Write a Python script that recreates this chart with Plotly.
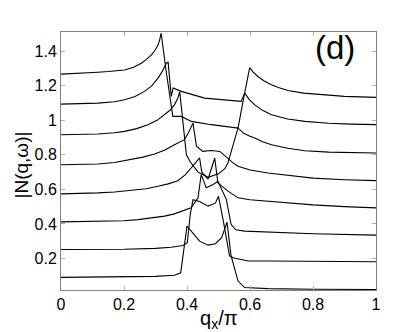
import plotly.graph_objects as go

# curves, bottom (c0) to top (c7)
c0_x = [0, 0.1, 0.2, 0.3, 0.36, 0.38, 0.40, 0.42, 0.44, 0.467, 0.49, 0.51, 0.52, 0.527, 0.54, 0.562, 0.583, 0.657, 0.8, 1.0]
c0_y = [0.090, 0.091, 0.093, 0.096, 0.102, 0.117, 0.387, 0.34, 0.30, 0.277, 0.285, 0.32, 0.377, 0.41, 0.214, 0.069, 0.031, 0.025, 0.021, 0.02]

c1_x = [0, 0.1, 0.2, 0.3, 0.35, 0.387, 0.401, 0.41, 0.419, 0.44, 0.467, 0.49, 0.50, 0.515, 0.535, 0.546, 0.594, 0.657, 0.8, 1.0]
c1_y = [0.252, 0.252, 0.253, 0.258, 0.265, 0.275, 0.291, 0.45, 0.54, 0.53, 0.503, 0.52, 0.56, 0.42, 0.215, 0.204, 0.185, 0.185, 0.182, 0.181]

c2_x = [0, 0.117, 0.2, 0.244, 0.29, 0.329, 0.36, 0.382, 0.413, 0.435, 0.445, 0.461, 0.483, 0.498, 0.525,
        0.54, 0.555, 0.583, 0.657, 0.8, 1.0]
c2_y = [0.412, 0.414, 0.418, 0.425, 0.434, 0.445, 0.458, 0.474, 0.493, 0.551, 0.686, 0.609, 0.628, 0.647, 0.541,
        0.396, 0.366, 0.358, 0.353, 0.343, 0.335]

c3_x = [0, 0.06, 0.117, 0.17, 0.223, 0.27, 0.308, 0.34, 0.371, 0.395, 0.413, 0.44, 0.447, 0.467, 0.488, 0.498,
        0.53, 0.562, 0.6, 0.657, 0.72, 0.8, 0.9, 1.0]
c3_y = [0.574, 0.576, 0.58, 0.585, 0.593, 0.604, 0.618, 0.632, 0.65, 0.685, 0.724, 0.782, 0.70, 0.66, 0.782, 0.638,
        0.59, 0.551, 0.54, 0.532, 0.52, 0.51, 0.50, 0.493]

c4_x = [0, 0.06, 0.117, 0.17, 0.223, 0.26, 0.297, 0.33, 0.36, 0.392, 0.405, 0.419, 0.43, 0.45, 0.477, 0.504,
        0.53, 0.545, 0.562, 0.6, 0.657, 0.72, 0.8, 0.9, 1.0]
c4_y = [0.743, 0.744, 0.747, 0.756, 0.772, 0.787, 0.805, 0.828, 0.859, 0.888, 0.93, 0.984, 0.85, 0.82, 0.825, 0.82,
        0.78, 0.755, 0.734, 0.712, 0.695, 0.68, 0.665, 0.656, 0.651]

c5_x = [0, 0.06, 0.117, 0.17, 0.202, 0.24, 0.276, 0.305, 0.329, 0.347, 0.36, 0.37, 0.377, 0.398, 0.41, 0.435,
        0.467, 0.50, 0.52, 0.53, 0.562, 0.58, 0.6, 0.615, 0.64, 0.668, 0.72, 0.774, 0.85, 1.0]
c5_y = [0.917, 0.918, 0.921, 0.928, 0.936, 0.952, 0.975, 1.0, 1.032, 1.06, 1.09, 1.125, 1.165, 0.80, 0.76, 0.70,
        0.67, 0.69, 0.72, 0.754, 0.956, 0.925, 0.908, 0.898, 0.876, 0.859, 0.838, 0.824, 0.816, 0.811]

c6_x = [0, 0.05, 0.117, 0.17, 0.202, 0.235, 0.265, 0.288, 0.308, 0.322, 0.334, 0.340, 0.350, 0.356, 0.382,
        0.456, 0.572, 0.583, 0.598, 0.615, 0.64, 0.668, 0.72, 0.774, 0.85, 0.92, 1.0]
c6_y = [1.094, 1.096, 1.10, 1.108, 1.119, 1.138, 1.168, 1.20, 1.245, 1.285, 1.331, 1.337, 1.139, 1.187, 1.168,
        1.129, 1.11, 1.158, 1.12, 1.09, 1.058, 1.032, 1.008, 0.994, 0.983, 0.978, 0.975]

c7_x = [0, 0.05, 0.117, 0.15, 0.202, 0.23, 0.255, 0.27, 0.287, 0.298, 0.308, 0.313, 0.318, 0.334, 0.355, 0.382,
        0.414, 0.477, 0.562, 0.580, 0.599, 0.61, 0.625, 0.645, 0.668, 0.69, 0.721, 0.77, 0.826, 0.9, 1.0]
c7_y = [1.268, 1.271, 1.279, 1.283, 1.292, 1.308, 1.331, 1.352, 1.379, 1.405, 1.437, 1.465, 1.505, 1.283, 1.023, 1.023,
        0.994, 0.975, 0.955, 1.13, 1.306, 1.28, 1.254, 1.228, 1.206, 1.19, 1.173, 1.158, 1.148, 1.139, 1.133]

curves = [(c0_x, c0_y), (c1_x, c1_y), (c2_x, c2_y), (c3_x, c3_y),
          (c4_x, c4_y), (c5_x, c5_y), (c6_x, c6_y), (c7_x, c7_y)]

x_ticks = [0, 0.2, 0.4, 0.6, 0.8, 1]
x_labels = ["0", "0.2", "0.4", "0.6", "0.8", "1"]
y_ticks = [0.2, 0.4, 0.6, 0.8, 1.0, 1.2, 1.4]
y_labels = ["0.2", "0.4", "0.6", "0.8", "1", "1.2", "1.4"]

FONT = "Liberation Sans, Arial, sans-serif"

fig = go.Figure()
for cx, cy in curves:
    fig.add_trace(go.Scatter(x=cx, y=cy, mode="lines",
                             line=dict(color="black", width=1.1),
                             showlegend=False, hoverinfo="skip"))

axis_style = dict(showgrid=False, zeroline=False, showline=True,
                  linecolor="#808080", linewidth=1, mirror="ticks",
                  ticks="inside", ticklen=4, tickcolor="#b0b0b0",
                  tickfont=dict(family=FONT, size=16, color="black"))

fig.update_xaxes(range=[0, 1], tickvals=x_ticks, ticktext=x_labels, **axis_style)
fig.update_yaxes(range=[0.017, 1.512], tickvals=y_ticks, ticktext=y_labels, **axis_style)

fig.add_annotation(x=0.5, y=-0.115, xref="paper", yref="paper",
                   text="q<sub>x</sub>/π", showarrow=False,
                   font=dict(family=FONT, size=20, color="black"),
                   xanchor="center", yanchor="middle")
fig.add_annotation(x=-0.125, y=0.485, xref="paper", yref="paper",
                   text="|N(q,ω)|", showarrow=False, textangle=-90,
                   font=dict(family=FONT, size=19, color="black"),
                   xanchor="center", yanchor="middle")
fig.add_annotation(x=0.87, y=0.94, xref="paper", yref="paper",
                   text="(d)", showarrow=False,
                   font=dict(family=FONT, size=33, color="black"),
                   xanchor="center", yanchor="middle")

fig.update_layout(width=407, height=332,
                  margin=dict(l=53, r=39, t=24, b=50),
                  paper_bgcolor="white", plot_bgcolor="white")

fig.write_html("out.html")
